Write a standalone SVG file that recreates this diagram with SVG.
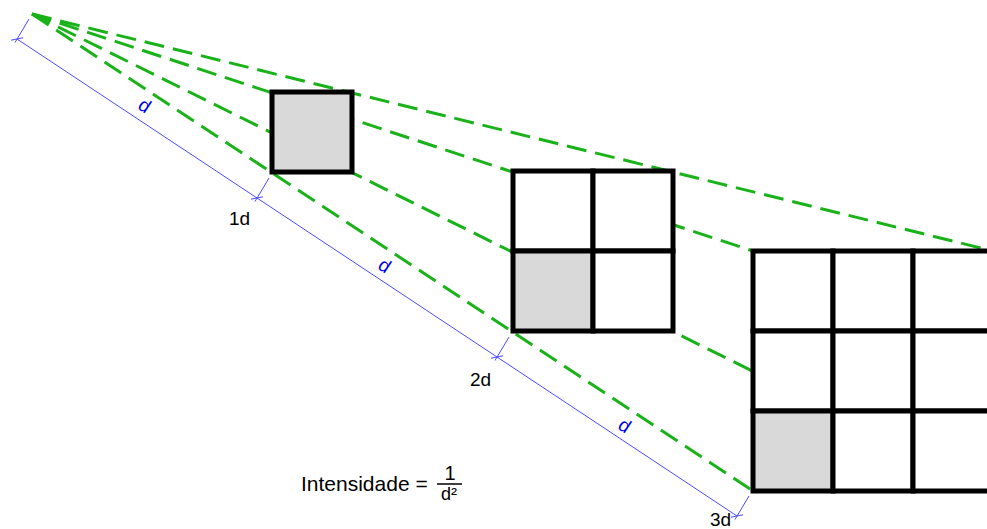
<svg xmlns="http://www.w3.org/2000/svg" width="987" height="529" viewBox="0 0 987 529">
<defs>
<style>
.ray{fill:none;stroke:#19b219;stroke-width:3;stroke-dasharray:20 9}
.cell{fill:#ffffff;stroke:#000;stroke-width:5}
.shade{fill:#d9d9d9;stroke:#000;stroke-width:5}
.dim{fill:none;stroke:#4b4bff;stroke-width:1}
.dtxt{font-family:"Liberation Sans",Arial,sans-serif;font-size:19px;fill:#0000ee}
.lbl{font-family:"Liberation Sans",Arial,sans-serif;font-size:19px;fill:#000}
.eq{font-family:"Liberation Sans",Arial,sans-serif;fill:#000}
</style>
</defs>
<rect width="987" height="529" fill="#fff"/>
<g id="connectors">
<line class="ray" x1="32" y1="14" x2="993" y2="251"/>
<line class="ray" x1="32" y1="14" x2="753" y2="251"/>
<line class="ray" x1="32" y1="14" x2="753" y2="491"/>
<line class="ray" x1="32" y1="14" x2="833" y2="411"/>
</g>
<g id="square1">
<rect class="shade" x="272" y="92" width="80" height="80"/>
</g>
<g id="grid2">
<rect class="cell" x="513" y="171" width="80" height="80"/>
<rect class="cell" x="593" y="171" width="80" height="80"/>
<rect class="shade" x="513" y="251" width="80" height="80"/>
<rect class="cell" x="593" y="251" width="80" height="80"/>
</g>
<g id="grid3">
<rect class="cell" x="753" y="251" width="80" height="80"/>
<rect class="cell" x="833" y="251" width="80" height="80"/>
<rect class="cell" x="913" y="251" width="80" height="80"/>
<rect class="cell" x="753" y="331" width="80" height="80"/>
<rect class="cell" x="833" y="331" width="80" height="80"/>
<rect class="cell" x="913" y="331" width="80" height="80"/>
<rect class="shade" x="753" y="411" width="80" height="80"/>
<rect class="cell" x="833" y="411" width="80" height="80"/>
<rect class="cell" x="913" y="411" width="80" height="80"/>
</g>
<g id="dimension">
<line class="dim" x1="17" y1="39" x2="737" y2="516"/>
<line class="dim" x1="15" y1="42.5" x2="29" y2="19"/>
<line class="dim" x1="11" y1="40.2" x2="23" y2="37.8"/>
<line class="dim" x1="255" y1="201.5" x2="269" y2="178"/>
<line class="dim" x1="251" y1="199.2" x2="263" y2="196.8"/>
<line class="dim" x1="495" y1="360.5" x2="509" y2="337"/>
<line class="dim" x1="491" y1="358.2" x2="503" y2="355.8"/>
<line class="dim" x1="735" y1="519.5" x2="749" y2="496"/>
<line class="dim" x1="731" y1="517.2" x2="743" y2="514.8"/>
<text class="dtxt" text-anchor="middle" transform="translate(145,105) rotate(33.5)" y="7">d</text>
<text class="dtxt" text-anchor="middle" transform="translate(385,265) rotate(33.5)" y="7">d</text>
<text class="dtxt" text-anchor="middle" transform="translate(625,425) rotate(33.5)" y="7">d</text>
</g>
<g id="labels">
<text class="lbl" x="229" y="225">1d</text>
<text class="lbl" x="470" y="386">2d</text>
<text class="lbl" x="710" y="526">3d</text>
</g>
<g id="formula">
<text class="eq" x="301" y="491" font-size="21">Intensidade =</text>
<text class="eq" x="450" y="480" font-size="20" text-anchor="middle">1</text>
<line x1="437" y1="484" x2="462" y2="484" stroke="#000" stroke-width="1.5"/>
<text class="eq" x="449" y="500" font-size="18" text-anchor="middle">d²</text>
</g>
</svg>
